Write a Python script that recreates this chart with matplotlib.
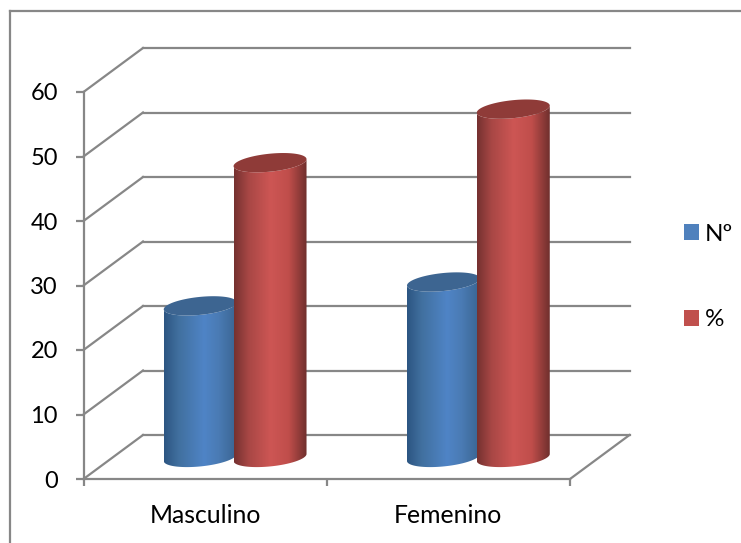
"""3D style cylinder chart, drawn on a plain axes with a depth offset."""

import matplotlib

matplotlib.use("Agg")
import matplotlib.pyplot as plt
import numpy as np
from matplotlib.colors import LinearSegmentedColormap
from matplotlib.lines import Line2D
from matplotlib.patches import Patch, PathPatch
from matplotlib.path import Path
from matplotlib.transforms import Affine2D

categories = ["Masculino", "Femenino"]
series_names = ["Nº", "%"]
values_n = [23.5, 27.2]
values_pct = [45.7, 54]
y_ticks = [0, 10, 20, 30, 40, 50, 60]

W, H = 741, 543
GREY = "#878787"
DEPTH_X, DEPTH_Y = 59.5, 44.0
BAR_W = 0.30
BLUE_OFFSET = 0.140
RED_OFFSET = 0.147
ELLIPSE_RY = 9.0
ELLIPSE_TILT = 3.5
FONT = "Lato"
FS = 17.5

blue_cmap = LinearSegmentedColormap.from_list(
    "b", [(0, "#2c5582"), (0.2, "#41709f"), (0.55, "#4f84c6"), (0.75, "#4a7bb4"), (1, "#3a6491")]
)
red_cmap = LinearSegmentedColormap.from_list(
    "r", [(0, "#753130"), (0.2, "#a84745"), (0.5, "#cd5654"), (0.75, "#c04e4b"), (1, "#6f2f2d")]
)

plt.rcParams["font.family"] = FONT

fig = plt.figure(figsize=(W / 100, H / 100), dpi=100)
ax = fig.add_axes([83.5 / W, (H - 479) / H, (570 - 83.5) / W, (479 - 92) / H])
ax.set_xlim(0, 2)
ax.set_ylim(0, 60)
ax.patch.set_visible(False)

px_x = 2 / (570 - 83.5)
px_y = 60 / (479 - 92)


def depth(frac):
    return ax.transData + Affine2D().translate(DEPTH_X * frac, DEPTH_Y * frac)


back = depth(1)
for v in y_ticks:
    # back wall, then side wall
    ax.plot([0, 2], [v, v], color=GREY, lw=1.6, transform=back, clip_on=False, zorder=1)
    ax.plot(
        [0, 0 + DEPTH_X * px_x], [v, v + DEPTH_Y * px_y],
        color=GREY, lw=1.6, clip_on=False, zorder=1,
    )
ax.plot(
    [2, 2 + DEPTH_X * px_x], [0, DEPTH_Y * px_y],
    color=GREY, lw=1.6, clip_on=False, zorder=1,
)


def ellipse_xy(xc, yv, t):
    x = xc + (BAR_W / 2) * np.cos(t)
    y = yv + (ELLIPSE_RY * np.sin(t) + ELLIPSE_TILT * np.cos(t)) * px_y
    return x, y


def cylinder(xc, value, cmap, top_color, z):
    tr = depth(0.49)
    t = np.linspace(np.pi, 2 * np.pi, 60)
    bx, by = ellipse_xy(xc, 0, t)
    tx, ty = ellipse_xy(xc, value, t[::-1])
    verts = np.column_stack([np.r_[bx, tx], np.r_[by, ty]])
    body = Path(np.vstack([verts, verts[0]]), closed=True)
    clip = PathPatch(body, transform=tr, fc="none", ec="none")
    ax.add_patch(clip)
    grad = np.linspace(0, 1, 256).reshape(1, -1)
    im = ax.imshow(
        grad, cmap=cmap, aspect="auto", zorder=z, interpolation="bilinear",
        extent=(xc - BAR_W / 2, xc + BAR_W / 2, -3, value + 3),
    )
    im.set_transform(tr)
    im.set_clip_path(clip)
    t2 = np.linspace(0, 2 * np.pi, 120)
    ex, ey = ellipse_xy(xc, value, t2)
    ax.fill(ex, ey, color=top_color, transform=tr, zorder=z + 0.1, clip_on=False, lw=0)


for i in range(len(categories)):
    cylinder(i + 0.5 - BLUE_OFFSET, values_n[i], blue_cmap, "#3d6591", 3)
    cylinder(i + 0.5 + RED_OFFSET, values_pct[i], red_cmap, "#8f3b38", 4)

ax.set_xlim(0, 2)
ax.set_ylim(0, 60)

for side in ("top", "right"):
    ax.spines[side].set_visible(False)
for side in ("left", "bottom"):
    ax.spines[side].set_color(GREY)
    ax.spines[side].set_linewidth(1.6)
    ax.spines[side].set_zorder(2)

ax.set_yticks(y_ticks)
ax.set_xticks([0, 1, 2])
ax.set_xticklabels([])
ax.set_xticks([0.5, 1.5], minor=True)
ax.set_xticklabels(categories, minor=True, fontsize=17.8, color="black")
ax.tick_params(axis="x", which="major", length=5, width=1.6, color=GREY)
ax.tick_params(axis="x", which="minor", length=0, pad=18)
ax.tick_params(axis="y", length=5.5, width=1.6, color=GREY, labelsize=17, pad=13)

handles = [
    Patch(facecolor="#4f81bd", label=series_names[0]),
    Patch(facecolor="#c0504d", label=series_names[1]),
]
fig.legend(
    handles=handles, loc="center left", bbox_to_anchor=(683.5 / W, (H - 277) / H),
    frameon=False, fontsize=FS, handlelength=0.62, handleheight=0.62,
    handletextpad=0.25, labelspacing=2.65, borderpad=0, borderaxespad=0,
)

# chart area outline runs off the right and bottom of the picture
fig.add_artist(Line2D([9.5 / W, 1], [(H - 10.5) / H] * 2, color=GREY, lw=1.6))
fig.add_artist(Line2D([9.5 / W] * 2, [0, (H - 10.5) / H], color=GREY, lw=1.6))

fig.savefig("out.png", dpi=100)
